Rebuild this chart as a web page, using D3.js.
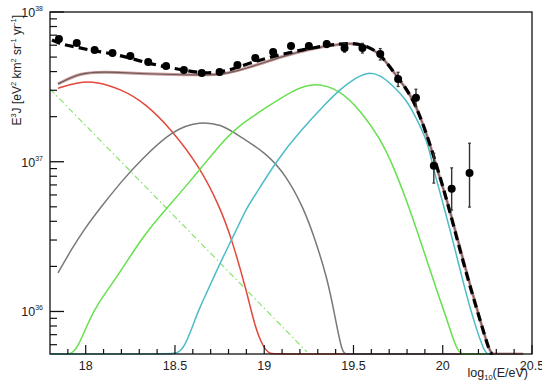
<!DOCTYPE html>
<html>
<head>
<meta charset="utf-8">
<script src="https://cdn.jsdelivr.net/npm/d3@7"></script>
<style>
  body { margin: 0; background: #fff; }
  svg text { font-family: "Liberation Sans", Arial, sans-serif; fill: #222; }
</style>
</head>
<body>
<div id="chart"></div>
<script>
// measured spectrum points: log10(E/eV), E^3 J and error bounds
var pointE  = [17.85, 17.95, 18.05, 18.15, 18.25, 18.35, 18.45, 18.55, 18.65, 18.75, 18.85, 18.95,
               19.05, 19.15, 19.25, 19.35, 19.45, 19.55, 19.65, 19.75, 19.85, 19.95, 20.05, 20.15];
var pointJ  = [6.6e37, 6.2e37, 5.57e37, 5.32e37, 5.08e37, 4.64e37, 4.36e37, 4.10e37, 3.92e37, 3.97e37, 4.43e37, 4.93e37,
               5.41e37, 5.93e37, 5.93e37, 6.11e37, 5.75e37, 5.75e37, 5.24e37, 3.57e37, 2.67e37, 9.4e36, 6.6e36, 8.4e36];
var pointLo = [6.4e37, 6.05e37, 5.45e37, 5.22e37, 4.98e37, 4.55e37, 4.27e37, 4.01e37, 3.83e37, 3.87e37, 4.31e37, 4.79e37,
               5.24e37, 5.70e37, 5.66e37, 5.79e37, 5.39e37, 5.32e37, 4.78e37, 3.18e37, 2.33e37, 7.2e36, 4.75e36, 4.98e36];
var pointHi = [6.8e37, 6.35e37, 5.69e37, 5.42e37, 5.18e37, 4.73e37, 4.45e37, 4.19e37, 4.01e37, 4.07e37, 4.55e37, 5.07e37,
               5.58e37, 6.16e37, 6.20e37, 6.43e37, 6.11e37, 6.18e37, 5.70e37, 3.96e37, 3.05e37, 1.14e37, 9.1e36, 1.33e37];

// model components [log10(E/eV), E^3 J]
var redCurve = [[17.845, 3.10e37], [17.95, 3.38e37], [18.052, 3.46e37], [18.20, 3.05e37], [18.332, 2.47e37], [18.483, 1.63e37], [18.640, 9.2e36],
                [18.752, 4.98e36], [18.820, 3.0e36], [18.904, 1.33e36], [18.948, 7.9e35], [18.993, 5.8e35],
                [19.03, 3e35], [19.06, 1e35], [20.45, 1e35]];
var grayCurve = [[17.845, 1.81e36], [17.92, 2.6e36], [17.996, 3.6e36], [18.080, 4.9e36], [18.209, 7.6e36], [18.30, 1.0e37],
                 [18.483, 1.63e37], [18.640, 1.87e37], [18.764, 1.76e37], [18.825, 1.58e37], [19.016, 1.14e37],
                 [19.128, 7.9e36], [19.217, 4.98e36], [19.273, 3.34e36], [19.352, 1.70e36], [19.397, 9.2e35],
                 [19.436, 5.27e35], [19.46, 2e35], [19.49, 1e35], [20.45, 1e35]];
var greenCurve = [[17.80, 1e35], [17.88, 1e35], [17.92, 3e35], [17.957, 5.8e35], [18.013, 8.4e35], [18.069, 1.14e36],
                  [18.164, 1.62e36], [18.332, 3.34e36], [18.461, 4.98e36], [18.584, 7.4e36], [18.640, 8.9e36],
                  [18.780, 1.42e37], [18.860, 1.75e37], [19.016, 2.32e37], [19.161, 3.01e37], [19.285, 3.41e37],
                  [19.425, 3.01e37], [19.537, 2.21e37], [19.649, 1.44e37], [19.733, 8.8e36], [19.817, 4.76e36],
                  [19.901, 2.38e36], [19.985, 1.19e36], [20.024, 8.8e35], [20.069, 5.97e35], [20.097, 4.5e35],
                  [20.13, 1e35], [20.45, 1e35]];
var cyanCurve = [[17.80, 1e35], [18.46, 1e35], [18.51, 3.5e35], [18.556, 5.8e35], [18.612, 8.8e35], [18.640, 1.07e36],
                 [18.685, 1.39e36], [18.752, 2.10e36], [18.825, 3.14e36], [18.904, 4.98e36], [18.932, 5.55e36],
                 [19.072, 1.03e37], [19.201, 1.60e37], [19.352, 2.50e37], [19.425, 3.05e37], [19.520, 3.68e37],
                 [19.582, 3.97e37], [19.649, 3.79e37], [19.705, 3.36e37], [19.800, 2.58e37], [19.856, 1.90e37],
                 [19.912, 1.40e37], [19.946, 9.2e36], [19.996, 5.55e36], [20.052, 3.14e36], [20.125, 1.39e36],
                 [20.181, 8.1e35], [20.237, 5.2e35], [20.26, 2e35], [20.29, 1e35], [20.45, 1e35]];
var totalCurve = [[17.845, 3.31e37], [17.957, 3.86e37], [18.052, 3.97e37], [18.164, 3.97e37], [18.332, 3.86e37],
                  [18.556, 3.80e37], [18.741, 3.80e37], [18.808, 3.92e37], [18.993, 4.56e37], [19.089, 5.00e37],
                  [19.273, 5.75e37], [19.464, 6.21e37], [19.554, 6.11e37], [19.649, 5.32e37], [19.744, 3.68e37],
                  [19.834, 2.71e37], [19.929, 1.33e37], [19.974, 8.4e36], [20.024, 5.55e36], [20.080, 3.14e36],
                  [20.153, 1.50e36], [20.209, 8.8e35], [20.265, 5.2e35], [20.29, 2e35], [20.32, 1e35], [20.45, 1e35]];
var fitCurve = [[17.811, 6.5e37], [17.873, 6.03e37], [17.951, 5.84e37], [18.041, 5.49e37], [18.136, 5.32e37],
                [18.248, 4.93e37], [18.343, 4.56e37], [18.455, 4.29e37], [18.545, 4.10e37], [18.640, 3.92e37],
                [18.736, 3.92e37], [18.825, 4.16e37], [18.920, 4.56e37], [19.032, 5.00e37], [19.201, 5.57e37],
                [19.369, 6.03e37], [19.481, 6.21e37], [19.565, 6.03e37], [19.649, 5.32e37], [19.744, 3.68e37],
                [19.834, 2.71e37], [19.929, 1.33e37], [20.024, 5.55e36], [20.125, 1.89e36], [20.209, 8.8e35],
                [20.265, 5.2e35], [20.28, 4e35]];
var powerLaw = [[17.80, 3.06e37], [18.50, 4.29e36], [19.24, 5.36e35]];

var xTicks = [18, 18.5, 19, 19.5, 20, 20.5];
var yDecades = [36, 37, 38];

var w = 542, h = 383;
var fLeft = 50, fRight = 532, fTop = 12, fBottom = 354;

var xScale = d3.scaleLinear().domain([17.8, 20.5]).range([fLeft, fRight]);
var yScale = d3.scaleLog().domain([5.2e35, 1e38]).range([fBottom, fTop]).clamp(true);

var svg = d3.select("#chart").append("svg").attr("width", w).attr("height", h);

svg.append("clipPath").attr("id", "frame")
  .append("rect").attr("x", fLeft).attr("y", fTop - 1).attr("width", fRight - fLeft).attr("height", fBottom - fTop + 2);

var plot = svg.append("g").attr("clip-path", "url(#frame)");

var line = d3.line()
  .x(function(d) { return xScale(d[0]); })
  .y(function(d) { return yScale(d[1]); })
  .curve(d3.curveBasis);

function drawCurve(data, color, width, dash) {
  plot.append("path")
    .datum(data)
    .attr("d", line)
    .attr("fill", "none")
    .attr("stroke", color)
    .attr("stroke-width", width)
    .attr("stroke-dasharray", dash || null);
}

drawCurve(powerLaw, "#7de35f", 1.1, "6,3,1.5,3");
drawCurve(redCurve, "#e2483b", 1.5);
drawCurve(grayCurve, "#787878", 1.5);
drawCurve(greenCurve, "#66e04e", 1.5);
drawCurve(cyanCurve, "#4cbcc6", 1.5);
drawCurve(totalCurve, "#c99a9a", 3);
drawCurve(totalCurve, "#6e5a5a", 1.2);
drawCurve(fitCurve, "#000", 3.2, "9,5");

// error bars and markers
var pts = pointE.map(function(e, i) { return { e: e, j: pointJ[i], lo: pointLo[i], hi: pointHi[i] }; });

plot.selectAll(".err")
  .data(pts)
  .enter()
  .append("line")
  .attr("x1", function(d) { return xScale(d.e); })
  .attr("x2", function(d) { return xScale(d.e); })
  .attr("y1", function(d) { return yScale(d.lo); })
  .attr("y2", function(d) { return yScale(d.hi); })
  .attr("stroke", "#333")
  .attr("stroke-width", 1.4);

plot.selectAll(".cap")
  .data(pts.concat(pts))
  .enter()
  .append("line")
  .attr("x1", function(d) { return xScale(d.e) - 1.5; })
  .attr("x2", function(d) { return xScale(d.e) + 1.5; })
  .attr("y1", function(d, i) { return yScale(i < pts.length ? d.lo : d.hi); })
  .attr("y2", function(d, i) { return yScale(i < pts.length ? d.lo : d.hi); })
  .attr("stroke", "#333")
  .attr("stroke-width", 1.2);

plot.selectAll("circle")
  .data(pts)
  .enter()
  .append("circle")
  .attr("cx", function(d) { return xScale(d.e); })
  .attr("cy", function(d) { return yScale(d.j); })
  .attr("r", 4)
  .attr("fill", "#000");

// frame
svg.append("rect")
  .attr("x", fLeft).attr("y", fTop)
  .attr("width", fRight - fLeft).attr("height", fBottom - fTop)
  .attr("fill", "none").attr("stroke", "#111").attr("stroke-width", 1.3);

// x ticks (inside, ROOT style)
var xMinor = d3.range(17.9, 20.5, 0.1);
svg.selectAll(".xminor")
  .data(xMinor)
  .enter()
  .append("line")
  .attr("x1", function(d) { return xScale(d); })
  .attr("x2", function(d) { return xScale(d); })
  .attr("y1", fBottom)
  .attr("y2", function(d) { return Math.abs(d * 2 - Math.round(d * 2)) < 1e-6 ? fBottom - 9 : fBottom - 5; })
  .attr("stroke", "#111").attr("stroke-width", 1.2);

svg.selectAll(".xlab")
  .data(xTicks)
  .enter()
  .append("text")
  .attr("x", function(d) { return xScale(d); })
  .attr("y", 370)
  .attr("text-anchor", "middle")
  .attr("font-size", 12.5)
  .text(function(d) { return d; });

// y ticks
var yMinor = [];
[35, 36, 37].forEach(function(p) {
  for (var k = 2; k <= 9; k++) yMinor.push(k * Math.pow(10, p));
});
yMinor = yMinor.filter(function(v) { return v >= 5.2e35 && v <= 1e38; });

svg.selectAll(".yminor")
  .data(yMinor)
  .enter()
  .append("line")
  .attr("x1", fLeft).attr("x2", fLeft + 7)
  .attr("y1", function(d) { return yScale(d); })
  .attr("y2", function(d) { return yScale(d); })
  .attr("stroke", "#111").attr("stroke-width", 1.2);

svg.selectAll(".ymajor")
  .data(yDecades)
  .enter()
  .append("line")
  .attr("x1", fLeft).attr("x2", fLeft + 14)
  .attr("y1", function(d) { return yScale(Math.pow(10, d)); })
  .attr("y2", function(d) { return yScale(Math.pow(10, d)); })
  .attr("stroke", "#111").attr("stroke-width", 1.3);

var ylab = svg.selectAll(".ylab")
  .data(yDecades)
  .enter()
  .append("text")
  .attr("x", 43)
  .attr("y", function(d) { return yScale(Math.pow(10, d)) + 5; })
  .attr("text-anchor", "end")
  .attr("font-size", 12.5);
ylab.append("tspan").text("10");
ylab.append("tspan").attr("font-size", 7).attr("dy", -6).text(function(d) { return d; });

// axis titles
var yt = svg.append("text")
  .attr("transform", "translate(21,15) rotate(-90)")
  .attr("text-anchor", "end")
  .attr("font-size", 12);
yt.append("tspan").text("E");
yt.append("tspan").attr("font-size", 7.5).attr("dy", -5).text("3");
yt.append("tspan").attr("dy", 5).text("J [eV");
yt.append("tspan").attr("font-size", 7.5).attr("dy", -5).text("2");
yt.append("tspan").attr("dy", 5).text(" km");
yt.append("tspan").attr("font-size", 7.5).attr("dy", -5).text("2");
yt.append("tspan").attr("dy", 5).text(" sr");
yt.append("tspan").attr("font-size", 7.5).attr("dy", -5).text("-1");
yt.append("tspan").attr("dy", 5).text(" yr");
yt.append("tspan").attr("font-size", 7.5).attr("dy", -5).text("-1");
yt.append("tspan").attr("dy", 5).text("]");

var xt = svg.append("text")
  .attr("x", 528).attr("y", 377)
  .attr("text-anchor", "end")
  .attr("font-size", 12.5);
xt.append("tspan").text("log");
xt.append("tspan").attr("font-size", 7.5).attr("dy", 3).text("10");
xt.append("tspan").attr("dy", -3).text("(E/eV)");
</script>
</body>
</html>
